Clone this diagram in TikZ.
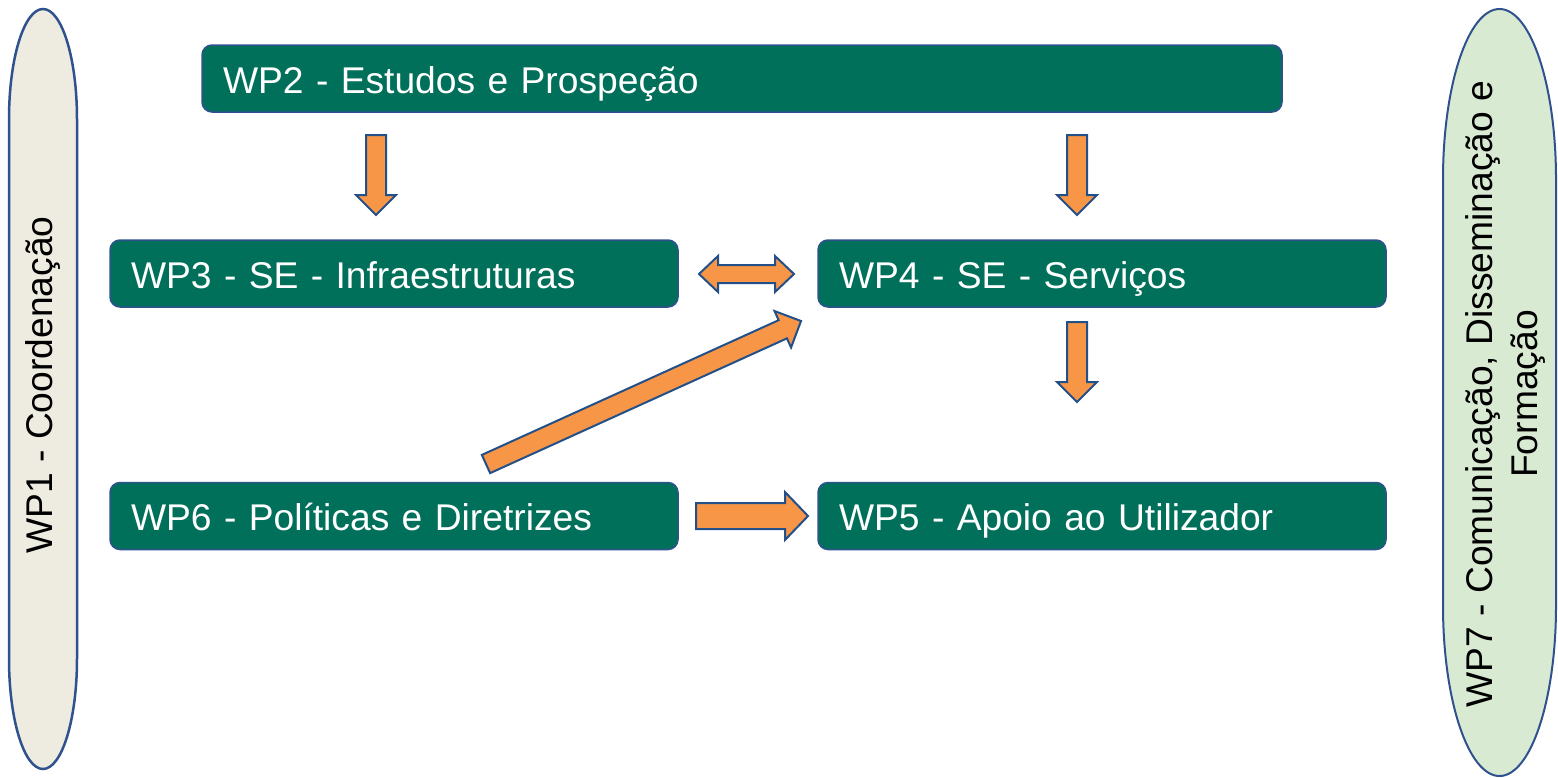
\documentclass[tikz,border=0pt]{standalone}
\usepackage{fontspec}
\setmainfont{Liberation Sans}
\usetikzlibrary{calc}
\definecolor{boxgreen}{HTML}{00705B}
\definecolor{boxline}{HTML}{2F528F}
\definecolor{arrfill}{HTML}{F79646}
\definecolor{arrline}{HTML}{24508A}
\definecolor{wponefill}{HTML}{EEECE1}
\definecolor{wpsevenfill}{HTML}{D9EAD3}
\newcommand{\blkarrow}[5]{%
  \coordinate (bh) at ($(#2)!#5!(#1)$);
  \draw[barrow] ($(#1)!#3!90:(#2)$) -- ($(bh)!#3!90:(#2)$) -- ($(bh)!#4!90:(#2)$) -- (#2)
    -- ($(bh)!#4!-90:(#2)$) -- ($(bh)!#3!-90:(#2)$) -- ($(#1)!#3!-90:(#2)$) -- cycle;}
\newcommand{\blkdarrow}[5]{%
  \coordinate (bha) at ($(#1)!#5!(#2)$);
  \coordinate (bhb) at ($(#2)!#5!(#1)$);
  \draw[barrow] (#1) -- ($(bha)!#4!90:(#2)$) -- ($(bha)!#3!90:(#2)$) -- ($(bhb)!#3!90:(#2)$)
    -- ($(bhb)!#4!90:(#2)$) -- (#2) -- ($(bhb)!#4!-90:(#2)$) -- ($(bhb)!#3!-90:(#2)$)
    -- ($(bha)!#3!-90:(#2)$) -- ($(bha)!#4!-90:(#2)$) -- cycle;}
\begin{document}
\begin{tikzpicture}[x=0.5pt,y=-0.5pt,
  font=\fontsize{18.6}{22.5}\selectfont,
  wpbox/.style={draw=boxline, line width=0.75pt, fill=boxgreen, rounded corners=5pt,
    text=white, minimum height=33.5pt, inner xsep=10.5pt, inner ysep=0pt, align=left,
    text height=18pt, text depth=3.5pt},
  barrow/.style={fill=arrfill, draw=arrline, line width=1pt, line join=miter}]
\useasboundingbox (0,0) rectangle (1558,777);
\fill[white] (0,0) rectangle (1558,777);

% side ovals (elliptical caps)
\path[fill=wponefill, draw=boxline, line width=1.25pt]
  (9,119) arc[start angle=180, end angle=0, x radius=17pt, y radius=55pt]
  -- (77,659) arc[start angle=0, end angle=-180, x radius=17pt, y radius=55pt] -- cycle;
\node[rotate=90] (wp1) at (43,385) {WP1 - Coordenação};
\path[fill=wpsevenfill, draw=boxline, line width=1pt]
  (1443,179) arc[start angle=180, end angle=0, x radius=28.25pt, y radius=85pt]
  -- (1556,606) arc[start angle=0, end angle=-180, x radius=28.25pt, y radius=85pt] -- cycle;
\node[rotate=90, align=center] (wp7) at (1505,394) {WP7 - Comunicação, Disseminação e\\Formação};

% work package boxes
\node[wpbox, text width=519pt] (wp2) at (742,78.5) {WP2 - Estudos e Prospeção};
\node[wpbox, text width=263pt] (wp3) at (394,273.5) {WP3 - SE - Infraestruturas};
\node[wpbox, text width=263pt] (wp4) at (1102,273.5) {WP4 - SE - Serviços};
\node[wpbox, text width=263pt] (wp6) at (394,516) {WP6 - Políticas e Diretrizes};
\node[wpbox, text width=263pt] (wp5) at (1102,516) {WP5 - Apoio ao Utilizador};

% arrow anchor coordinates
\coordinate (a1s) at (376,135);  \coordinate (a1e) at (376,215);
\coordinate (a2s) at (1077,135); \coordinate (a2e) at (1077,215);
\coordinate (a3s) at (1077,322); \coordinate (a3e) at (1077,402);
\coordinate (d1) at (699,274);   \coordinate (d2) at (794,274);
\coordinate (r1s) at (696,516);  \coordinate (r1e) at (808,516);
\coordinate (g1s) at (486,464);  \coordinate (g1e) at (801,321);

\blkarrow{a1s}{a1e}{5pt}{10pt}{10pt}
\blkarrow{a2s}{a2e}{5pt}{10pt}{10pt}
\blkarrow{a3s}{a3e}{5pt}{10pt}{10pt}
\blkdarrow{d1}{d2}{4.5pt}{9pt}{9.5pt}
\blkarrow{r1s}{r1e}{6.5pt}{12pt}{11.5pt}
\blkarrow{g1s}{g1e}{5pt}{10pt}{10pt}
\end{tikzpicture}
\end{document}
